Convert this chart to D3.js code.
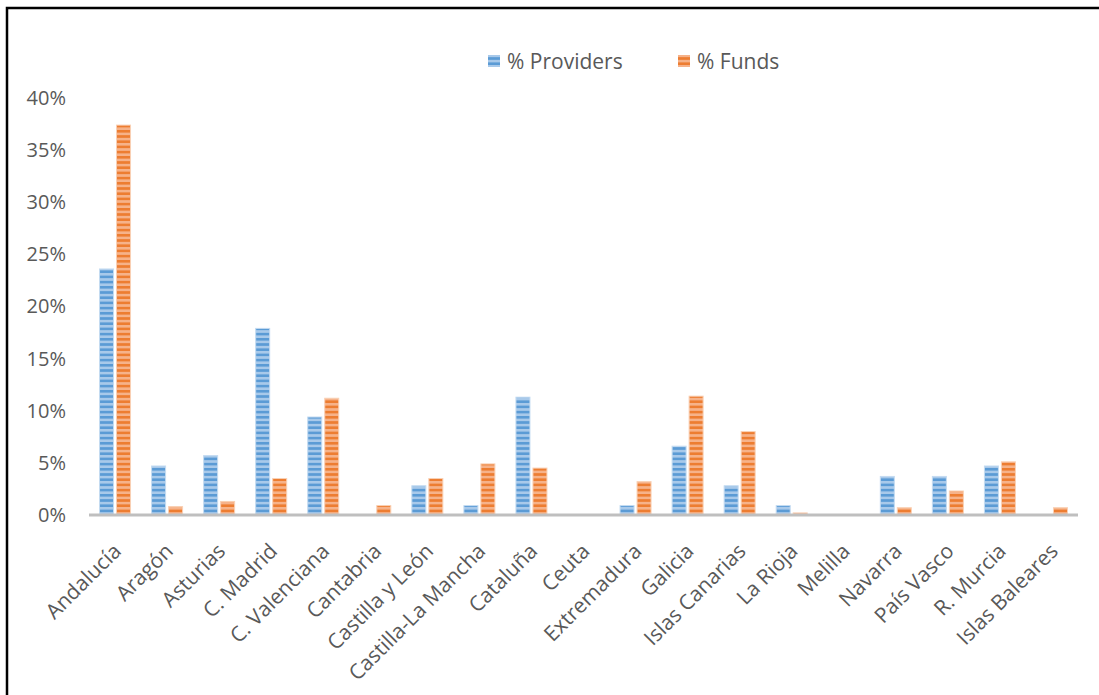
<!DOCTYPE html>
<html>
<head>
<meta charset="utf-8">
<script src="https://cdn.jsdelivr.net/npm/d3@7"></script>
<style>
  html, body { margin: 0; padding: 0; background: #fff; }
  svg { display: block; }
  text { font-family: "Open Sans", "Liberation Sans", sans-serif; fill: #595959; }
</style>
</head>
<body>
<svg id="chart" width="1099" height="695"></svg>
<script>
const categories = ["Andalucía","Aragón","Asturias","C. Madrid","C. Valenciana","Cantabria","Castilla y León","Castilla-La Mancha","Cataluña","Ceuta","Extremadura","Galicia","Islas Canarias","La Rioja","Melilla","Navarra","País Vasco","R. Murcia","Islas Baleares"];
const providers = [23.6, 4.7, 5.7, 17.9, 9.4, 0, 2.8, 0.9, 11.3, 0, 0.9, 6.6, 2.8, 0.9, 0, 3.7, 3.7, 4.7, 0];
const funds     = [37.4, 0.8, 1.3, 3.5, 11.2, 0.9, 3.5, 4.9, 4.5, 0, 3.2, 11.4, 8.0, 0.2, 0, 0.7, 2.3, 5.1, 0.7];
const seriesNames = ["% Providers", "% Funds"];
const yTicks = [0, 5, 10, 15, 20, 25, 30, 35, 40];

const svg = d3.select("#chart");

// frame
svg.append("rect").attr("x", 7).attr("y", 8).attr("width", 1110).attr("height", 710)
  .attr("fill", "none").attr("stroke", "#000").attr("stroke-width", 2.5);

const pLeft = 89, pRight = 1078, pTop = 98, pBottom = 515;
const x = d3.scaleBand().domain(categories).range([pLeft, pRight]).paddingInner(0).paddingOuter(0);
const y = d3.scaleLinear().domain([0, 40]).range([pBottom, pTop]);

// patterns
const defs = svg.append("defs");
function stripe(id, dark, light) {
  const p = defs.append("pattern").attr("id", id).attr("patternUnits", "userSpaceOnUse")
    .attr("width", 8).attr("height", 5.2);
  p.append("rect").attr("width", 8).attr("height", 5.2).attr("fill", light);
  p.append("rect").attr("width", 8).attr("height", 2.6).attr("fill", dark);
}
stripe("pBlue", "#5b9bd5", "#a8c9ea");
stripe("pOrange", "#ed7d31", "#f6b289");
const fills = ["url(#pBlue)", "url(#pOrange)"];
const edge = ["#c4dbf1", "#f9d0b4"];

// y axis labels (no line)
const yAxis = d3.axisLeft(y).tickValues(yTicks).tickFormat(d => d + "%").tickSize(0).tickPadding(0);
const gy = svg.append("g").attr("transform", `translate(66,0)`).call(yAxis);
gy.select(".domain").remove();
gy.selectAll("text").style("font-size", "20px").attr("fill", "#595959")
  .style("font-family", '"Open Sans", "Liberation Sans", sans-serif');

// bars
const sub = d3.scaleBand().domain([0, 1]).range([0, x.bandwidth()]).paddingInner(0.176).paddingOuter(0.619);
[providers, funds].forEach((vals, si) => {
  svg.append("g").selectAll("rect").data(vals.map((v, i) => ({c: categories[i], v})).filter(d => d.v > 0))
    .join("rect")
    .attr("x", d => x(d.c) + sub(si))
    .attr("width", sub.bandwidth())
    .attr("y", d => y(d.v))
    .attr("height", d => y(0) - y(d.v))
    .attr("fill", fills[si])
    .attr("stroke", edge[si]).attr("stroke-width", 1);
});

// x axis line
svg.append("line").attr("x1", pLeft).attr("x2", pRight).attr("y1", y(0)).attr("y2", y(0))
  .attr("stroke", "#bfbfbf").attr("stroke-width", 3);

// x labels
const xAxis = d3.axisBottom(x).tickSize(0).tickPadding(0);
const gx = svg.append("g").attr("transform", `translate(0,${pBottom})`).call(xAxis);
gx.select(".domain").remove();
gx.selectAll("text")
  .style("font-size", "21px").attr("fill", "#595959")
  .style("font-family", '"Open Sans", "Liberation Sans", sans-serif')
  .attr("text-anchor", "end")
  .attr("y", 0).attr("dy", "0.7em")
  .attr("transform", "translate(-3,27) rotate(-45)");

// legend
const lg = svg.append("g");
const legX = [488, 678];
seriesNames.forEach((n, i) => {
  lg.append("rect").attr("x", legX[i]).attr("y", 55).attr("width", 12).attr("height", 12)
    .attr("fill", fills[i]);
  lg.append("text").attr("x", legX[i] + 19).attr("y", 62).attr("dy", "0.35em")
    .style("font-size", "21px").attr("fill", "#595959").text(n);
});
</script>
</body>
</html>
